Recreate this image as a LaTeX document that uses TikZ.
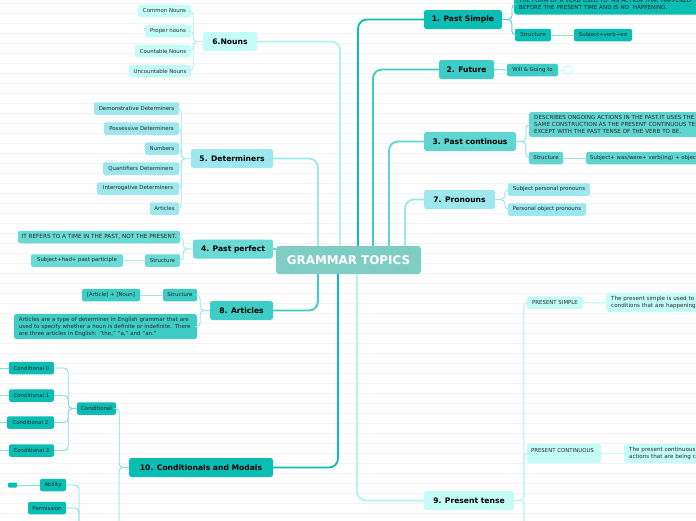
\documentclass[tikz,border=0pt]{standalone}
\usepackage{fontspec}
\setmainfont{DejaVu Sans}
\definecolor{cA}{RGB}{10,190,180}
\definecolor{cB}{RGB}{62,204,198}
\definecolor{cC}{RGB}{96,214,210}
\definecolor{cD}{RGB}{106,218,214}
\definecolor{cE}{RGB}{157,232,238}
\definecolor{cF}{RGB}{196,252,248}
\definecolor{cFl}{RGB}{178,242,240}
\definecolor{cG}{RGB}{128,205,196}
\definecolor{txt}{RGB}{40,40,40}
\definecolor{rule}{RGB}{244,244,244}
\tikzset{
  x=1pt, y=-1pt,
  topic/.style={rounded corners=2.5pt, inner sep=0pt, minimum height=19pt, font=\fontsize{7.6}{9}\selectfont\bfseries, text=black},
  sub/.style={rounded corners=2pt, inner sep=0pt, minimum height=12.5pt, font=\fontsize{5.4}{6.5}\selectfont, text=txt},
  desc/.style={rounded corners=2.5pt, inner xsep=5pt, inner ysep=0pt, align=left, font=\fontsize{5.6}{7}\selectfont, text=txt},
  trunk/.style={line width=1.8pt, rounded corners=9pt},
  cl/.style={line width=0.9pt, rounded corners=4pt},
}
\begin{document}
\begin{tikzpicture}
\useasboundingbox (0,0) rectangle (696,520);
\clip (0,0) rectangle (696,520);
\fill[white] (0,0) rectangle (696,520);
\foreach \k in {0,...,51} {\draw[rule, line width=0.5pt] (0,3+10*\k) -- (696,3+10*\k);}

% central
\node[rounded corners=3pt, fill=cG, minimum width=145pt, minimum height=28pt, inner sep=0pt, font=\fontsize{11.9}{13}\selectfont\bfseries, text=white] (gt) at (348.5,260) {GRAMMAR TOPICS};

% main topics
\node[topic, fill=cA, minimum width=78pt] (ps) at (463,19.5) {1. Past Simple};
\node[topic, fill=cB, minimum width=55pt] (fu) at (466.5,69.5) {2. Future};
\node[topic, fill=cC, minimum width=92pt] (pc) at (470,141.5) {3. Past continous};
\node[topic, fill=cE, minimum width=71pt] (pr) at (459.5,199.5) {7. Pronouns};
\node[topic, fill=cF, minimum width=90pt] (pt) at (469,500.5) {9. Present tense};
\node[topic, fill=cF, minimum width=54pt] (no) at (230,41.5) {6.Nouns};
\node[topic, fill=cE, minimum width=82pt] (de) at (232,158.5) {5. Determiners};
\node[topic, fill=cD, minimum width=80pt] (pp) at (233,249) {4. Past perfect};
\node[topic, fill=cB, minimum width=63pt] (ar) at (241.5,310.5) {8. Articles};
\node[topic, fill=cA, minimum width=144pt] (cm) at (201,467.5) {10. Conditionals and Modals};

% trunks
\draw[trunk, cA] ([xshift=9.5pt]gt.north) |- (ps.west);
\draw[trunk, cB] ([xshift=24.5pt]gt.north) |- (fu.west);
\draw[trunk, cC] ([xshift=40.5pt]gt.north) |- (pc.west);
\draw[trunk, cE] ([xshift=56.5pt]gt.north) |- (pr.west);
\draw[trunk, cFl] ([xshift=-8.5pt]gt.north) |- (no.east);
\draw[trunk, cE] ([xshift=-30.5pt]gt.north) |- (de.east);
\draw[trunk, cD] (gt.west |- pp.east) -- (pp.east);
\draw[trunk, cB] ([xshift=-30.5pt]gt.south) |- (ar.east);
\draw[trunk, cA] ([xshift=-10.5pt]gt.south) |- (cm.east);
\draw[trunk, cFl] ([xshift=8.5pt]gt.south) |- (pt.west);

% Past simple children
\node[desc, fill=cA, anchor=west, minimum height=21pt, text width=200pt] (psd) at (514,4) {THE FORM OF A VERB USED TO~ AN ACTION THAT HAPPENED\\BEFORE THE PRESENT TIME AND IS NO~ HAPPENING.};
\node[sub, fill=cA, minimum width=36pt] (pss) at (533,35) {Structure};
\node[sub, fill=cA, minimum width=58pt] (psf) at (603,35) {Subject+verb+ed};
\draw[cl, cA!70] (ps.east) -| ([xshift=-2pt]psd.west) -- (psd.west);
\draw[cl, cA!70] (ps.east) -| ([xshift=-3pt]pss.west) -- (pss.west);
\draw[cl, cA!50] (pss.east) -- (psf.west);

% Future children
\node[sub, fill=cB, minimum width=51pt] (fw) at (532.5,70) {Will \& Going to};
\node[circle, draw=cF!80!cE, fill=white, line width=0.8pt, minimum size=9pt, inner sep=0pt] (fc) at (568,70) {};
\draw[cl, cB!70] (fu.east) -- (fw.west);
\draw[cl, cF!80!cE] (fw.east) -- (fc.west);

% Past continuous children
\node[desc, fill=cC, anchor=west, minimum height=25pt, text width=200pt] (pcd) at (529,124.5) {DESCRIBES ONGOING ACTIONS IN THE PAST.IT USES THE\\SAME CONSTRUCTION AS THE PRESENT CONTINUOUS TENSE\\EXCEPT WITH THE PAST TENSE OF THE VERB TO BE.};
\node[sub, fill=cC, minimum width=34pt] (pcs) at (546,158) {Structure};
\node[sub, fill=cC, anchor=west, text width=130pt, align=left, inner xsep=4pt] (pcf) at (586,158) {Subject+ was/were+ verb(ing) + object};
\draw[cl, cC!70] (pc.east) -| ([xshift=-3pt]pcd.west) -- (pcd.west);
\draw[cl, cC!70] (pc.east) -| ([xshift=-3pt]pcs.west) -- (pcs.west);
\draw[cl, cC!60] (pcs.east) -- (pcf.west);

% Pronouns children
\node[sub, fill=cE, minimum width=82pt] (pr1) at (549,189.5) {Subject personal pronouns};
\node[sub, fill=cE, minimum width=78pt] (pr2) at (547,209.5) {Personal object pronouns};
\draw[cl, cE] (pr.east) -| ([xshift=-3pt]pr1.west) -- (pr1.west);
\draw[cl, cE] (pr.east) -| ([xshift=-3pt]pr2.west) -- (pr2.west);

% Present tense children
\node[sub, fill=cF, minimum width=56pt] (pts) at (555,302.5) {PRESENT SIMPLE};
\node[desc, fill=cF, anchor=west, minimum height=19pt, text width=120pt] (ptsd) at (606,302.5) {The present simple is used to refer\\conditions that are happening at};
\node[sub, fill=cF, minimum width=74pt, minimum height=19pt] (ptc) at (564,453.5) {};
\node[sub, anchor=north west, inner xsep=4pt, inner ysep=3pt] (ptct) at (ptc.north west) {PRESENT CONTINUOUS};
\node[desc, fill=cF, anchor=west, minimum height=19pt, text width=120pt] (ptcd) at (624,453.5) {The present continuous is\\actions that are being carried};
\draw[cl, cFl] (pt.east) -| ([xshift=-3pt]pts.west) -- (pts.west);
\draw[cl, cFl] (pt.east) -| (524,530);
\draw[cl, cFl] (524,530) |- ([yshift=0pt]ptc.west);
\draw[cl, cF] (pts.east) -- (ptsd.west);
\draw[cl, cF] (ptc.east) -- (ptcd.west);

% Nouns children
\node[sub, fill=cF, minimum width=53pt] (n1) at (164.5,11) {Common Nouns};
\node[sub, fill=cF, minimum width=46pt] (n2) at (168,31) {Proper nouns};
\node[sub, fill=cF, minimum width=56pt] (n3) at (163,51) {Countable Nouns};
\node[sub, fill=cF, minimum width=62pt] (n4) at (160,71) {Uncountable Nouns};
\foreach \n in {n1,n2,n3,n4} {\draw[cl, cFl] (no.west) -| ([xshift=2pt]\n.east) -- (\n.east);}

% Determiners children
\node[sub, fill=cE, minimum width=85pt] (d1) at (136.5,108.5) {Demonstrative Determiners};
\node[sub, fill=cE, minimum width=75pt] (d2) at (141.5,128.5) {Possessive Determiners};
\node[sub, fill=cE, minimum width=34pt] (d3) at (162,148.5) {Numbers};
\node[sub, fill=cE, minimum width=76pt] (d4) at (141,168.5) {Quantifiers Determiners};
\node[sub, fill=cE, minimum width=82pt] (d5) at (138,188.5) {Interrogative Determiners};
\node[sub, fill=cE, minimum width=29pt] (d6) at (164.5,208.5) {Articles};
\foreach \n in {d1,d2,d3,d4,d5,d6} {\draw[cl, cE!80!cF] (de.west) -| ([xshift=2pt]\n.east) -- (\n.east);}

% Past perfect children
\node[sub, fill=cD, minimum width=162pt, font=\fontsize{5.7}{6.5}\selectfont] (pp1) at (99,237) {IT REFERS TO A TIME IN THE PAST, NOT THE PRESENT.};
\node[sub, fill=cD, minimum width=35pt] (pp2) at (162.5,260.5) {Structure};
\node[sub, fill=cD, minimum width=92pt] (pp3) at (77,260.5) {Subject+had+ past participle};
\draw[cl, cD!60] (pp.west) -| ([xshift=3pt]pp1.east) -- (pp1.east);
\draw[cl, cD!60] (pp.west) -| ([xshift=3pt]pp2.east) -- (pp2.east);
\draw[cl, cD!50] (pp2.west) -- (pp3.east);

% Articles children
\node[sub, fill=cB, minimum width=34pt] (a1) at (180,295) {Structure};
\node[sub, fill=cB, minimum width=58pt] (a2) at (111,295) {[Article] + [Noun]};
\node[desc, fill=cB, minimum width=183pt, minimum height=25pt, text width=173pt, font=\fontsize{5.5}{7}\selectfont] (a3) at (105.5,326.5) {Articles are a type of determiner in English grammar that are\\used to specify whether a noun is definite or indefinite. There\\are three articles in English: ``the,'' ``a,'' and ``an.''};
\draw[cl, cB!50] (ar.west) -| ([xshift=3pt]a1.east) -- (a1.east);
\draw[cl, cB!50] (ar.west) -| ([xshift=3pt]a3.east) -- (a3.east);
\draw[cl, cB!50] (a1.west) -- (a2.east);

% Conditionals and modals
\node[sub, fill=cA, minimum width=39pt] (co) at (96.5,408.5) {Conditional};
\node[sub, fill=cA, minimum width=45pt] (c0) at (31.5,368) {Conditional 0};
\node[sub, fill=cA, minimum width=45pt] (c1) at (31.5,395.5) {Conditional 1};
\node[sub, fill=cA, minimum width=47pt] (c2) at (30.5,422.5) {Conditional 2};
\node[sub, fill=cA, minimum width=45pt] (c3) at (31.5,450.5) {Conditional 3};
\draw[cl, cA!50] (cm.west) -| ([xshift=3pt]co.east) -- (co.east);
\draw[cl, cA!50] (cm.west) -| (119,530);
\foreach \n in {c0,c1,c2,c3} {\draw[cl, cA!50] (co.west) -| ([xshift=14pt]\n.east) -- (\n.east);
  \draw[cl, cA!50] (\n.west) -- (\n.west -| 0,0);}
\node[sub, fill=cA, minimum width=26pt] (ab) at (53,485) {Ability};
\node[sub, fill=cA, minimum width=38pt] (pe) at (47,508) {Permission};
\node[rounded corners=1pt, fill=cA, minimum width=9pt, minimum height=5pt, inner sep=0pt] (abx) at (12.5,485) {};
\draw[cl, cA!50] (abx.east) -- (ab.west);
\draw[cl, cA!50] (ab.east) -| (79,530);
\draw[cl, cA!50] (pe.east) -| (79,530);
\end{tikzpicture}
\end{document}
